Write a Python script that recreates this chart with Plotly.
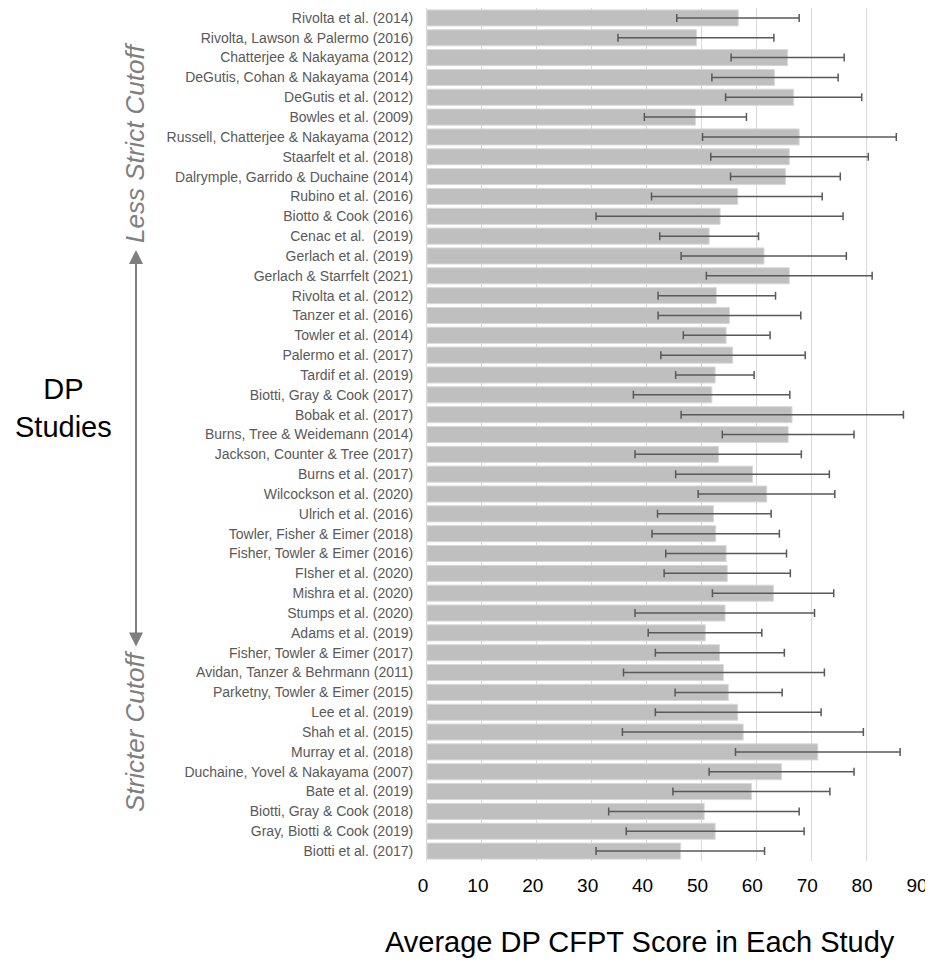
import plotly.graph_objects as go

studies = [
    "Rivolta et al. (2014)", "Rivolta, Lawson & Palermo (2016)", "Chatterjee & Nakayama (2012)",
    "DeGutis, Cohan & Nakayama (2014)", "DeGutis et al. (2012)", "Bowles et al. (2009)",
    "Russell, Chatterjee & Nakayama (2012)", "Staarfelt et al. (2018)",
    "Dalrymple, Garrido & Duchaine (2014)", "Rubino et al. (2016)", "Biotto & Cook (2016)",
    "Cenac et al.  (2019)", "Gerlach et al. (2019)", "Gerlach & Starrfelt (2021)",
    "Rivolta et al. (2012)", "Tanzer et al. (2016)", "Towler et al. (2014)",
    "Palermo et al. (2017)", "Tardif et al. (2019)", "Biotti, Gray & Cook (2017)",
    "Bobak et al. (2017)", "Burns, Tree & Weidemann (2014)", "Jackson, Counter & Tree (2017)",
    "Burns et al. (2017)", "Wilcockson et al. (2020)", "Ulrich et al. (2016)",
    "Towler, Fisher & Eimer (2018)", "Fisher, Towler & Eimer (2016)", "FIsher et al. (2020)",
    "Mishra et al. (2020)", "Stumps et al. (2020)", "Adams et al. (2019)",
    "Fisher, Towler & Eimer (2017)", "Avidan, Tanzer & Behrmann (2011)",
    "Parketny, Towler & Eimer (2015)", "Lee et al. (2019)", "Shah et al. (2015)",
    "Murray et al. (2018)", "Duchaine, Yovel & Nakayama (2007)", "Bate et al. (2019)",
    "Biotti, Gray & Cook (2018)", "Gray, Biotti & Cook (2019)", "Biotti et al. (2017)",
]

mean_scores = [
    56.7, 49.1, 65.7, 63.3, 66.8, 48.9, 67.8, 66.0, 65.3, 56.6, 53.4,
    51.4, 61.4, 66.0, 52.7, 55.1, 54.5, 55.7, 52.5, 51.9, 66.5,
    65.8, 53.1, 59.3, 61.9, 52.2, 52.6, 54.5, 54.7, 63.1, 54.3,
    50.7, 53.3, 54.0, 54.9, 56.6, 57.6, 71.2, 64.6, 59.1, 50.5, 52.5, 46.2,
]
low_scores = [
    45.5, 34.8, 55.4, 51.9, 54.4, 39.6, 50.2, 51.7, 55.3, 40.9, 30.8,
    42.4, 46.3, 50.9, 42.1, 42.1, 46.7, 42.6, 45.3, 37.6, 46.3,
    53.8, 37.9, 45.3, 49.4, 42.0, 41.0, 43.5, 43.2, 52.0, 37.9,
    40.3, 41.6, 35.8, 45.2, 41.6, 35.6, 56.2, 51.4, 44.8, 33.1, 36.3, 30.8,
]
high_scores = [
    67.8, 63.2, 76.0, 74.9, 79.2, 58.2, 85.5, 80.4, 75.3, 72.0, 75.8,
    60.4, 76.4, 81.1, 63.5, 68.1, 62.5, 68.9, 59.6, 66.1, 86.8,
    77.8, 68.2, 73.3, 74.3, 62.7, 64.2, 65.5, 66.2, 74.1, 70.6,
    61.0, 65.1, 72.4, 64.7, 71.8, 79.5, 86.2, 77.8, 73.4, 67.8, 68.7, 61.5,
]
x_ticks = [0, 10, 20, 30, 40, 50, 60, 70, 80, 90]

err_plus = [h - m for h, m in zip(high_scores, mean_scores)]
err_minus = [m - l for m, l in zip(mean_scores, low_scores)]

FONT = "Liberation Sans, Arial, sans-serif"

fig = go.Figure()
fig.add_trace(go.Bar(
    x=mean_scores, y=studies, orientation="h",
    marker=dict(color="#bfbfbf", line=dict(color="#d9d9d9", width=1)),
    error_x=dict(type="data", symmetric=False, array=err_plus, arrayminus=err_minus,
                 color="#595959", thickness=1.5, width=4),
    hoverinfo="skip",
))

# page body adds an 8px offset; compensate in size/margins
fig.update_layout(
    width=925, height=950,
    margin=dict(l=419, r=12, t=0, b=97),
    paper_bgcolor="white", plot_bgcolor="white",
    bargap=0.19, showlegend=False,
    font=dict(family=FONT),
    xaxis=dict(range=[0, 90], tickvals=x_ticks, ticktext=[str(v) for v in x_ticks],
               showgrid=True, gridcolor="#d9d9d9", gridwidth=1, zeroline=False,
               showline=False, ticks="", tickfont=dict(size=19, color="#000000"),
               ticklabelstandoff=11, ticklabelshift=-4),
    yaxis=dict(autorange="reversed", showgrid=False, ticks="", showline=True,
               linecolor="#d9d9d9", linewidth=1,
               tickfont=dict(size=14, color="#595959"), ticklabelstandoff=10),
)

def py(pix):
    return (861 - pix) / 853

def px(pix):
    return (pix - 427) / 494

annotations = [
    dict(text="Average DP CFPT Score in Each Study", x=px(640), y=py(942), xref="paper", yref="paper",
         showarrow=False, font=dict(size=29, color="#000000"), xanchor="center", yanchor="middle"),
    dict(text="DP<br>Studies", x=px(63), y=py(408), xref="paper", yref="paper",
         showarrow=False, font=dict(size=29, color="#000000"), xanchor="center", yanchor="middle"),
    dict(text="<i>Less Strict Cutoff</i>", x=px(135), y=py(143), xref="paper", yref="paper",
         showarrow=False, textangle=-90, font=dict(size=26, color="#7f7f7f"),
         xanchor="center", yanchor="middle"),
    dict(text="<i>Stricter Cutoff</i>", x=px(135), y=py(731), xref="paper", yref="paper",
         showarrow=False, textangle=-90, font=dict(size=26, color="#7f7f7f"),
         xanchor="center", yanchor="middle"),
    dict(text="", x=px(136), y=py(250), xref="paper", yref="paper",
         ax=0, ay=398, axref="pixel", ayref="pixel", showarrow=True,
         arrowside="end+start", arrowhead=2, startarrowhead=2, arrowsize=1.4,
         startarrowsize=1.4, arrowwidth=2, arrowcolor="#7f7f7f"),
]
fig.update_layout(annotations=annotations)

fig.write_html("out.html")
